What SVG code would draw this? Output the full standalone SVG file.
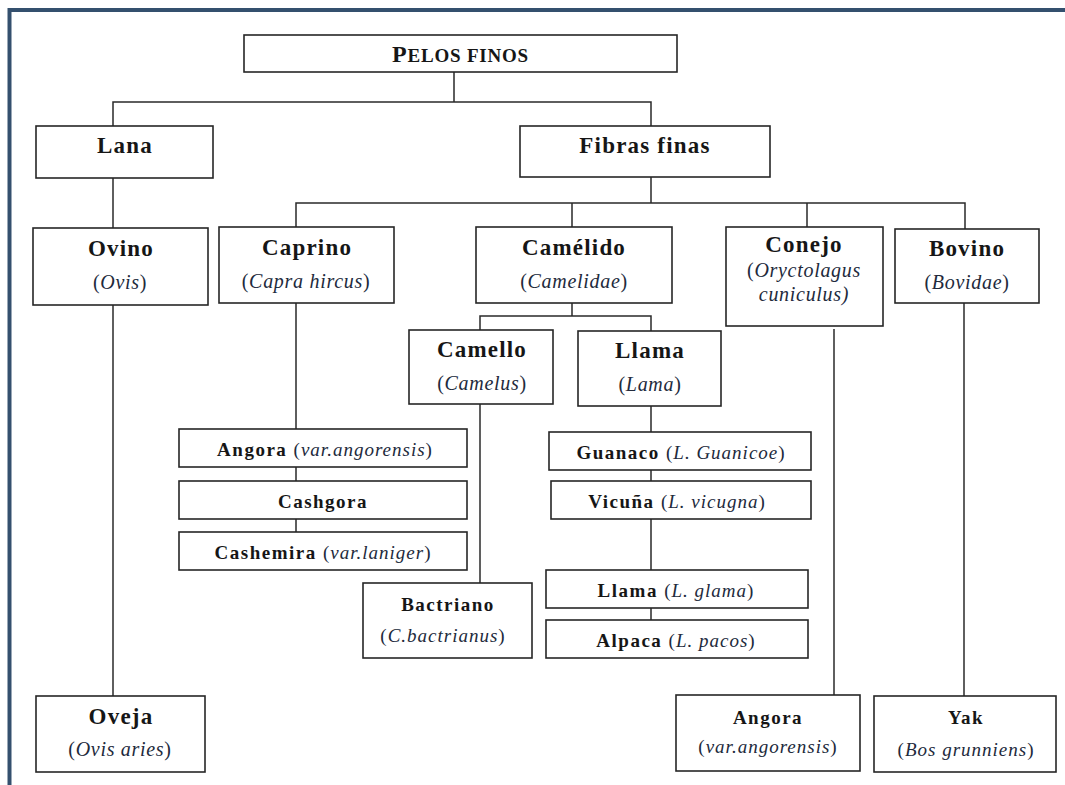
<svg xmlns="http://www.w3.org/2000/svg" width="1065" height="785" viewBox="0 0 1065 785">
  <style>
    .frame { fill: none; stroke: #34506e; stroke-width: 4; }
    .box { fill: #ffffff; stroke: #262626; stroke-width: 1.6; }
    .link { fill: none; stroke: #2a2a2a; stroke-width: 1.5; }
    text { font-family: "Liberation Serif", "Times New Roman", serif; text-anchor: middle; fill: #161616; }
    .t1 { font-size: 23px; font-weight: bold; letter-spacing: 1.2px; }
    .s1 { font-size: 20px; font-style: italic; letter-spacing: 0.7px; fill: #222a3c; }
    .t2 { font-size: 19px; font-weight: bold; letter-spacing: 1.5px; }
    .s2 { font-size: 19px; font-style: italic; letter-spacing: 1px; fill: #222a3c; }
    .it { font-weight: normal; font-style: italic; fill: #222a3c; letter-spacing: 1px; }
    .title { font-size: 19px; font-weight: bold; letter-spacing: 0.8px; }
  </style>

  <!-- page frame -->
  <path class="frame" d="M9.5,785 V10 H1065"/>

  <!-- connectors -->
  <g id="connectors">
    <path class="link" d="M454,72 V102 M113,126 V102 H651 V126"/>
    <path class="link" d="M113,178 V228"/>
    <path class="link" d="M651,177 V203 M296,227 V203 H965 V229 M572,203 V227 M807,203 V227"/>
    <path class="link" d="M572,303 V316 M480,330 V316 H651 V331"/>
    <path class="link" d="M113,305 V696"/>
    <path class="link" d="M296,303 V429 M296,467 V481 M296,519 V532"/>
    <path class="link" d="M480,404 V583"/>
    <path class="link" d="M651,406 V432 M651,470 V481 M651,519 V570 M651,608 V620"/>
    <path class="link" d="M834,329 V696"/>
    <path class="link" d="M964,303 V696"/>
  </g>

  <!-- root -->
  <g id="pelos-finos">
    <rect class="box" x="244" y="35" width="433" height="37"/>
    <text class="title" x="460.5" y="62"><tspan font-size="24">P</tspan>ELOS FINOS</text>
  </g>

  <!-- first level -->
  <g id="lana">
    <rect class="box" x="36" y="126" width="177" height="52"/>
    <text class="t1" x="125" y="153">Lana</text>
  </g>
  <g id="fibras-finas">
    <rect class="box" x="520" y="126" width="250" height="51"/>
    <text class="t1" x="645" y="153">Fibras finas</text>
  </g>

  <!-- second level -->
  <g id="ovino">
    <rect class="box" x="33" y="228" width="175" height="77"/>
    <text class="t1" x="121" y="256">Ovino</text>
    <text class="s1" x="120" y="289"><tspan font-style="normal">(</tspan>Ovis<tspan font-style="normal">)</tspan></text>
  </g>
  <g id="caprino">
    <rect class="box" x="219" y="227" width="175" height="76"/>
    <text class="t1" x="307" y="255">Caprino</text>
    <text class="s1" x="306" y="288"><tspan font-style="normal">(</tspan>Capra hircus<tspan font-style="normal">)</tspan></text>
  </g>
  <g id="camelido">
    <rect class="box" x="476" y="227" width="196" height="76"/>
    <text class="t1" x="574" y="255">Camélido</text>
    <text class="s1" x="574" y="288"><tspan font-style="normal">(</tspan>Camelidae<tspan font-style="normal">)</tspan></text>
  </g>
  <g id="conejo">
    <rect class="box" x="726" y="227" width="157" height="99"/>
    <text class="t1" x="804" y="252">Conejo</text>
    <text class="s1" x="804" y="277"><tspan font-style="normal">(</tspan>Oryctolagus</text>
    <text class="s1" x="804" y="301">cuniculus)</text>
  </g>
  <g id="bovino">
    <rect class="box" x="895" y="229" width="144" height="74"/>
    <text class="t1" x="967" y="256">Bovino</text>
    <text class="s1" x="967" y="289"><tspan font-style="normal">(</tspan>Bovidae<tspan font-style="normal">)</tspan></text>
  </g>

  <!-- camelids -->
  <g id="camello">
    <rect class="box" x="409" y="330" width="144" height="74"/>
    <text class="t1" x="482" y="357">Camello</text>
    <text class="s1" x="482" y="390"><tspan font-style="normal">(</tspan>Camelus<tspan font-style="normal">)</tspan></text>
  </g>
  <g id="llama">
    <rect class="box" x="578" y="331" width="143" height="75"/>
    <text class="t1" x="650" y="358">Llama</text>
    <text class="s1" x="650" y="391"><tspan font-style="normal">(</tspan>Lama<tspan font-style="normal">)</tspan></text>
  </g>

  <!-- goat varieties -->
  <g id="angora-cabra">
    <rect class="box" x="179" y="429" width="288" height="38"/>
    <text class="t2" x="325" y="456">Angora <tspan class="it"><tspan font-style="normal">(</tspan>var.angorensis<tspan font-style="normal">)</tspan></tspan></text>
  </g>
  <g id="cashgora">
    <rect class="box" x="179" y="481" width="288" height="38"/>
    <text class="t2" x="323" y="508">Cashgora</text>
  </g>
  <g id="cashemira">
    <rect class="box" x="179" y="532" width="288" height="38"/>
    <text class="t2" x="323" y="559">Cashemira <tspan class="it"><tspan font-style="normal">(</tspan>var.laniger<tspan font-style="normal">)</tspan></tspan></text>
  </g>

  <!-- camel species -->
  <g id="bactriano">
    <rect class="box" x="363" y="583" width="169" height="75"/>
    <text class="t2" x="448" y="611">Bactriano</text>
    <text class="s2" x="443" y="642"><tspan font-style="normal">(</tspan>C.bactrianus<tspan font-style="normal">)</tspan></text>
  </g>

  <!-- lama species -->
  <g id="guanaco">
    <rect class="box" x="549" y="432" width="262" height="38"/>
    <text class="t2" x="681" y="459">Guanaco <tspan class="it"><tspan font-style="normal">(</tspan>L. Guanicoe<tspan font-style="normal">)</tspan></tspan></text>
  </g>
  <g id="vicuna">
    <rect class="box" x="551" y="481" width="260" height="38"/>
    <text class="t2" x="677" y="508">Vicuña <tspan class="it"><tspan font-style="normal">(</tspan>L. vicugna<tspan font-style="normal">)</tspan></tspan></text>
  </g>
  <g id="llama-glama">
    <rect class="box" x="546" y="570" width="262" height="38"/>
    <text class="t2" x="676" y="597">Llama <tspan class="it"><tspan font-style="normal">(</tspan>L. glama<tspan font-style="normal">)</tspan></tspan></text>
  </g>
  <g id="alpaca">
    <rect class="box" x="546" y="620" width="262" height="38"/>
    <text class="t2" x="676" y="647">Alpaca <tspan class="it"><tspan font-style="normal">(</tspan>L. pacos<tspan font-style="normal">)</tspan></tspan></text>
  </g>

  <!-- bottom row -->
  <g id="oveja">
    <rect class="box" x="36" y="696" width="169" height="76"/>
    <text class="t1" x="121" y="724">Oveja</text>
    <text class="s1" x="120" y="756"><tspan font-style="normal">(</tspan>Ovis aries<tspan font-style="normal">)</tspan></text>
  </g>
  <g id="angora-conejo">
    <rect class="box" x="676" y="695" width="184" height="76"/>
    <text class="t2" x="768" y="724">Angora</text>
    <text class="s2" x="768" y="753"><tspan font-style="normal">(</tspan>var.angorensis<tspan font-style="normal">)</tspan></text>
  </g>
  <g id="yak">
    <rect class="box" x="874" y="696" width="182" height="76"/>
    <text class="t2" x="966" y="724">Yak</text>
    <text class="s2" x="966" y="756"><tspan font-style="normal">(</tspan>Bos grunniens<tspan font-style="normal">)</tspan></text>
  </g>
</svg>
